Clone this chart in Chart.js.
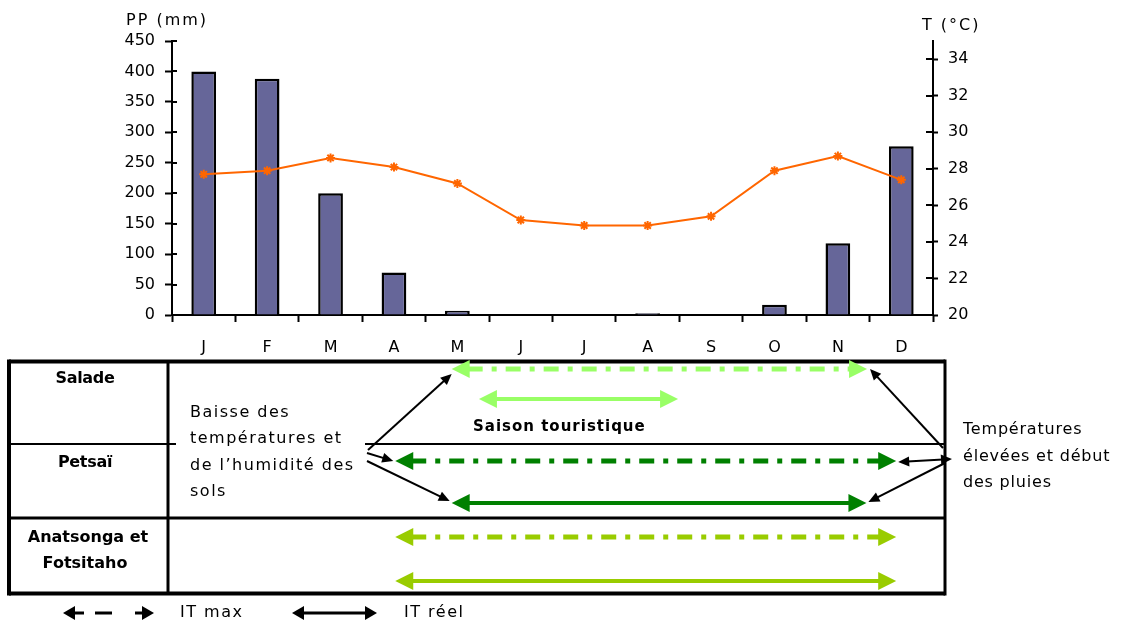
<!DOCTYPE html>
<html><head><meta charset="utf-8">
<script src="https://cdn.jsdelivr.net/npm/chart.js@4/dist/chart.umd.min.js"></script>
<style>html,body{margin:0;padding:0;background:#fff;} #wrap{width:1121px;height:623px;position:relative;}</style>
</head><body><div id="wrap"><canvas id="c" width="1121" height="623"></canvas></div>
<script>
// ---- data ----
const months = ['J','F','M','A','M','J','J','A','S','O','N','D'];
const precipitation = [400, 388, 200, 70, 7, 0, 0, 3, 0, 17, 118, 277];
const temperature = [27.7, 27.9, 28.6, 28.1, 27.2, 25.2, 24.9, 24.9, 25.4, 27.9, 28.7, 27.4];
const ppTicks = [0, 50, 100, 150, 200, 250, 300, 350, 400, 450];
const tTicks = [20, 22, 24, 26, 28, 30, 32, 34];
const crops = [['Salade'], ['Petsaï'], ['Anatsonga et', 'Fotsitaho']];
// month positions (0 = J ... 11 = D) of arrow tips
const itMaxFrom = [3.91, 3.02, 3.02];
const itMaxTo = [10.46, 10.92, 10.92];
const itReelFrom = [null, 3.91, 3.02];
const itReelTo = [null, 10.45, 10.92];
const touristSeason = [4.34, 7.48];

// ---- styles ----
const FONT = 'DejaVu Sans';
const cropColors = ['#99FF66', '#008000', '#99CC00'];
const rowMaxY = [369, 461, 537];
const rowReelY = [null, 503, 581];
const seasonY = 399;
const T = {left: 9, right: 945, top: 361.5, bottom: 593.5, divider: 168, row1: 444, row2: 518};

function head(ctx, tx, ty, ang, len, half) {
  const c = Math.cos(ang), s = Math.sin(ang);
  ctx.beginPath();
  ctx.moveTo(tx, ty);
  ctx.lineTo(tx - len * c + half * s, ty - len * s - half * c);
  ctx.lineTo(tx - len * c - half * s, ty - len * s + half * c);
  ctx.closePath();
  ctx.fill();
}
function arrow(ctx, x1, y1, x2, y2, o) {
  const ang = Math.atan2(y2 - y1, x2 - x1);
  const c = Math.cos(ang), s = Math.sin(ang);
  ctx.save();
  ctx.strokeStyle = o.color; ctx.fillStyle = o.color; ctx.lineWidth = o.width;
  ctx.setLineDash(o.dash || []);
  const sx = o.start ? x1 + (o.len - 2) * c : x1, sy = o.start ? y1 + (o.len - 2) * s : y1;
  const ex = o.end ? x2 - (o.len - 2) * c : x2, ey = o.end ? y2 - (o.len - 2) * s : y2;
  ctx.beginPath(); ctx.moveTo(sx, sy); ctx.lineTo(ex, ey); ctx.stroke();
  ctx.setLineDash([]);
  if (o.start) head(ctx, x1, y1, ang + Math.PI, o.len, o.half);
  if (o.end) head(ctx, x2, y2, ang, o.len, o.half);
  ctx.restore();
}
function line(ctx, x1, y1, x2, y2, w) {
  ctx.save(); ctx.strokeStyle = '#000'; ctx.lineWidth = w;
  ctx.beginPath(); ctx.moveTo(x1, y1); ctx.lineTo(x2, y2); ctx.stroke(); ctx.restore();
}
function text(ctx, str, x, y, font, align, spacing) {
  ctx.save();
  ctx.font = font; ctx.fillStyle = '#000'; ctx.textAlign = align || 'left'; ctx.textBaseline = 'middle';
  ctx.letterSpacing = (spacing || 0) + 'px';
  ctx.fillText(str, x, y);
  ctx.restore();
}

const extrasPlugin = {
  id: 'extras',
  afterDraw(chart) {
    const ctx = chart.ctx;
    const xs = chart.scales.x, yl = chart.scales.y, yr = chart.scales.y1;
    const X = v => xs.getPixelForValue(v);
    // inner halves of y tick marks
    ctx.save(); ctx.strokeStyle = '#000'; ctx.lineWidth = 2;
    yl.ticks.forEach(t => { const p = Math.round(yl.getPixelForValue(t.value)); ctx.beginPath(); ctx.moveTo(xs.left, p); ctx.lineTo(xs.left + 5, p); ctx.stroke(); });
    yr.ticks.forEach(t => { const p = Math.round(yr.getPixelForValue(t.value)); ctx.beginPath(); ctx.moveTo(xs.right, p); ctx.lineTo(xs.right - 7, p); ctx.stroke(); });
    ctx.restore();
    // axis titles
    text(ctx, 'PP (mm)', 126, 21, '16px "' + FONT + '"', 'left', 2);
    text(ctx, 'T (°C)', 922, 26, '16px "' + FONT + '"', 'left', 2);

    // table frame
    line(ctx, T.left, T.top, T.right, T.top, 4);
    line(ctx, T.left, T.bottom, T.right, T.bottom, 4);
    line(ctx, T.left, T.top - 2, T.left, T.bottom + 2, 4);
    line(ctx, T.right, T.top - 2, T.right, T.bottom + 2, 3);
    line(ctx, T.divider, T.top, T.divider, T.bottom, 3);
    line(ctx, T.left, T.row1, 176, T.row1, 2);
    line(ctx, 365, T.row1, T.right, T.row1, 2);
    line(ctx, T.left, T.row2, T.right, T.row2, 3);

    // crop labels
    const bold = 'bold 16px "' + FONT + '"';
    text(ctx, crops[0][0], 85, 379, bold, 'center', -0.3);
    text(ctx, crops[1][0], 85, 463, bold, 'center', -0.3);
    text(ctx, crops[2][0], 88, 538, bold, 'center', 0);
    text(ctx, crops[2][1], 85, 564, bold, 'center', 0);

    // crop arrows
    const DASH = [15, 9, 5, 9];
    crops.forEach((c, i) => {
      arrow(ctx, X(itMaxFrom[i]), rowMaxY[i], X(itMaxTo[i]), rowMaxY[i],
        {color: cropColors[i], width: 5, dash: DASH, len: 18, half: 9, start: true, end: true});
      if (itReelFrom[i] !== null) {
        arrow(ctx, X(itReelFrom[i]), rowReelY[i], X(itReelTo[i]), rowReelY[i],
          {color: cropColors[i], width: 4, len: 18, half: 9, start: true, end: true});
      }
    });
    arrow(ctx, X(touristSeason[0]), seasonY, X(touristSeason[1]), seasonY,
      {color: cropColors[0], width: 4, len: 18, half: 9, start: true, end: true});
    text(ctx, 'Saison touristique', 473, 427, 'bold 15px "' + FONT + '"', 'left', 1);

    // annotation arrows
    const blk = {color: '#000', width: 2, len: 11, half: 5, end: true};
    arrow(ctx, 368, 450, X(itMaxFrom[0]), rowMaxY[0] + 5, blk);
    arrow(ctx, 367, 453, X(itMaxFrom[1]) - 2, rowMaxY[1], blk);
    arrow(ctx, 367, 461, X(itReelFrom[1]) - 2, rowReelY[1] - 2, blk);
    arrow(ctx, 943, 448, X(itMaxTo[0]) + 3, rowMaxY[0], blk);
    arrow(ctx, 952, 459, X(itMaxTo[1]) + 2, rowMaxY[1] + 1, Object.assign({}, blk, {start: true}));
    arrow(ctx, 945, 463, X(itReelTo[1]) + 2, rowReelY[1] - 1, blk);

    const reg = '16px "' + FONT + '"';
    ['Baisse des', 'températures et', 'de l\u2019humidité des', 'sols'].forEach((s, i) =>
      text(ctx, s, 190, 413 + i * 26.3, reg, 'left', 1.5));
    ['Températures', 'élevées et début', 'des pluies'].forEach((s, i) =>
      text(ctx, s, 963, 430 + i * 26.5, reg, 'left', 0.8));

    // legend
    const lg = {color: '#000', width: 3, len: 12, half: 7};
    head(ctx, 63, 613, Math.PI, 12, 7);
    line(ctx, 73, 613, 84, 613, 3);
    line(ctx, 95, 613, 112, 613, 3);
    line(ctx, 135, 613, 144, 613, 3);
    head(ctx, 154, 613, 0, 12, 7);
    text(ctx, 'IT max', 180, 613, reg, 'left', 1.5);
    arrow(ctx, 292, 613, 377, 613, Object.assign({}, lg, {start: true, end: true}));
    text(ctx, 'IT réel', 404, 613, reg, 'left', 1.5);
  }
};

new Chart(document.getElementById('c'), {
  data: {
    labels: months,
    datasets: [
      {type: 'line', label: 'T', data: temperature, yAxisID: 'y1', order: 0,
       borderColor: '#FF6600', backgroundColor: '#FF6600', borderWidth: 2, tension: 0,
       pointStyle: 'star', pointRadius: 4.5, pointBorderWidth: 2, pointBorderColor: '#FF6600'},
      {type: 'bar', label: 'PP', data: precipitation, yAxisID: 'y', order: 1,
       backgroundColor: '#666699', borderColor: '#000', borderWidth: 2.5,
       categoryPercentage: 1, barPercentage: 0.39}
    ]
  },
  options: {
    responsive: false, animation: false,
    layout: {padding: {left: 0, right: 0, top: 41, bottom: 268}},
    plugins: {legend: {display: false}, tooltip: {enabled: false}},
    scales: {
      x: {
        grid: {display: true, drawOnChartArea: false, drawTicks: true, tickLength: 7, tickWidth: 2, tickColor: '#000', offset: true},
        border: {display: true, color: '#000', width: 2},
        ticks: {color: '#000', font: {family: FONT, size: 16}, padding: 16, maxRotation: 0, autoSkip: false},
        afterFit: s => { s.height = 40; }
      },
      y: {
        position: 'left', min: 0, max: 450,
        grid: {display: true, drawOnChartArea: false, drawTicks: true, tickLength: 7, tickWidth: 2, tickColor: '#000'},
        border: {display: true, color: '#000', width: 2},
        ticks: {color: '#000', font: {family: FONT, size: 16}, padding: 10},
        afterBuildTicks: s => { s.ticks = ppTicks.map(v => ({value: v})); },
        afterFit: s => { s.width = 172; }
      },
      y1: {
        position: 'right', min: 20, max: 35,
        grid: {display: true, drawOnChartArea: false, drawTicks: true, tickLength: 5, tickWidth: 2, tickColor: '#000'},
        border: {display: true, color: '#000', width: 2},
        ticks: {color: '#000', font: {family: FONT, size: 16}, padding: 10},
        afterBuildTicks: s => { s.ticks = tTicks.map(v => ({value: v})); },
        afterFit: s => { s.width = 188; }
      }
    }
  },
  plugins: [extrasPlugin]
});
</script></body></html>
